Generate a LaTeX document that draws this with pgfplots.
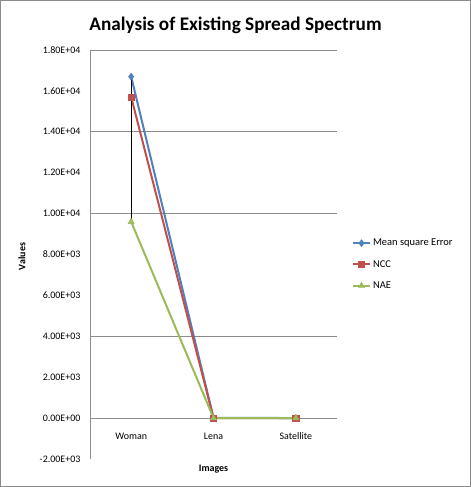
\documentclass[border=0pt]{standalone}
\usepackage{fontspec}
\setmainfont{Carlito}
\usepackage{pgfplots}
\pgfplotsset{compat=1.18}
\definecolor{serA}{HTML}{4F81BD}
\definecolor{serB}{HTML}{C0504D}
\definecolor{serC}{HTML}{9BBB59}
\definecolor{gridc}{HTML}{8C8C8C}
\begin{document}
\begin{tikzpicture}[x=1bp,y=1bp]
\path[use as bounding box] (0,0) rectangle (471,487);
\draw[gridc, line width=1.2bp] (0.6,0.6) rectangle (470.4,486.4);
\node[font=\fontsize{19.3}{22}\selectfont\bfseries] at (235.5,462) {Analysis of Existing Spread Spectrum};
\begin{axis}[
  scale only axis, width=247bp, height=409bp,
  at={(90bp,28bp)}, anchor=south west,
  xmin=-0.5, xmax=2.5, ymin=-2000, ymax=18000,
  scaled y ticks=false,
  axis x line=middle, axis y line=left,
  axis line style={draw=gridc, line width=0.8bp, -},
  xtick={0,1,2}, xticklabels={Woman,Lena,Satellite},
  major x tick style={draw=none},
  xticklabel style={font=\fontsize{10}{12}\selectfont, yshift=-9bp},
  ytick={-2000,0,2000,4000,6000,8000,10000,12000,14000,16000,18000},
  yticklabels={-2.00E+03,0.00E+00,2.00E+03,4.00E+03,6.00E+03,8.00E+03,1.00E+04,1.20E+04,1.40E+04,1.60E+04,1.80E+04},
  yticklabel style={font=\fontsize{10}{12}\selectfont, xshift=-4bp},
  major y tick style={draw=none},
  extra y ticks={0,4000,10000,14000,18000},
  extra y tick labels={},
  extra y tick style={grid=major, major grid style={draw=gridc, line width=0.8bp},
    major tick length=4bp, tick align=outside, major tick style={draw=gridc, line width=0.8bp}},
  xlabel={Images}, ylabel={Values},
  xlabel style={font=\fontsize{10}{12}\selectfont\bfseries, at={(axis description cs:0.5,0)}, anchor=center, yshift=-10bp},
  ylabel style={font=\fontsize{10}{12}\selectfont\bfseries, at={(axis description cs:-0.276,0.495)}, anchor=center},
  clip=false,
  legend style={at={(1.06,0.543)}, anchor=north west, draw=none, fill=none,
    font=\fontsize{10.5}{12}\selectfont, row sep=9bp, inner sep=0pt},
  legend cell align=left,
  legend image post style={line width=2bp},
]
\addplot[serA, line width=2bp, mark=diamond*, mark size=3.5bp, mark options={line width=0.5bp}]
  coordinates {(0,16700) (1,12) (2,3)};
\addlegendentry{Mean square Error}
\addplot[serB, line width=2bp, mark=square*, mark size=3.2bp, mark options={line width=0.5bp}]
  coordinates {(0,15700) (1,1) (2,1)};
\addlegendentry{NCC}
\addplot[serC, line width=2bp, mark=triangle*, mark size=3.5bp, mark options={line width=0.5bp}]
  coordinates {(0,9600) (1,0.1) (2,0.1)};
\addlegendentry{NAE}
% high-low line joining the series at the first category
\addplot[black, line width=0.9bp, forget plot] coordinates {(0,9600) (0,16700)};
\end{axis}
\end{tikzpicture}
\end{document}
